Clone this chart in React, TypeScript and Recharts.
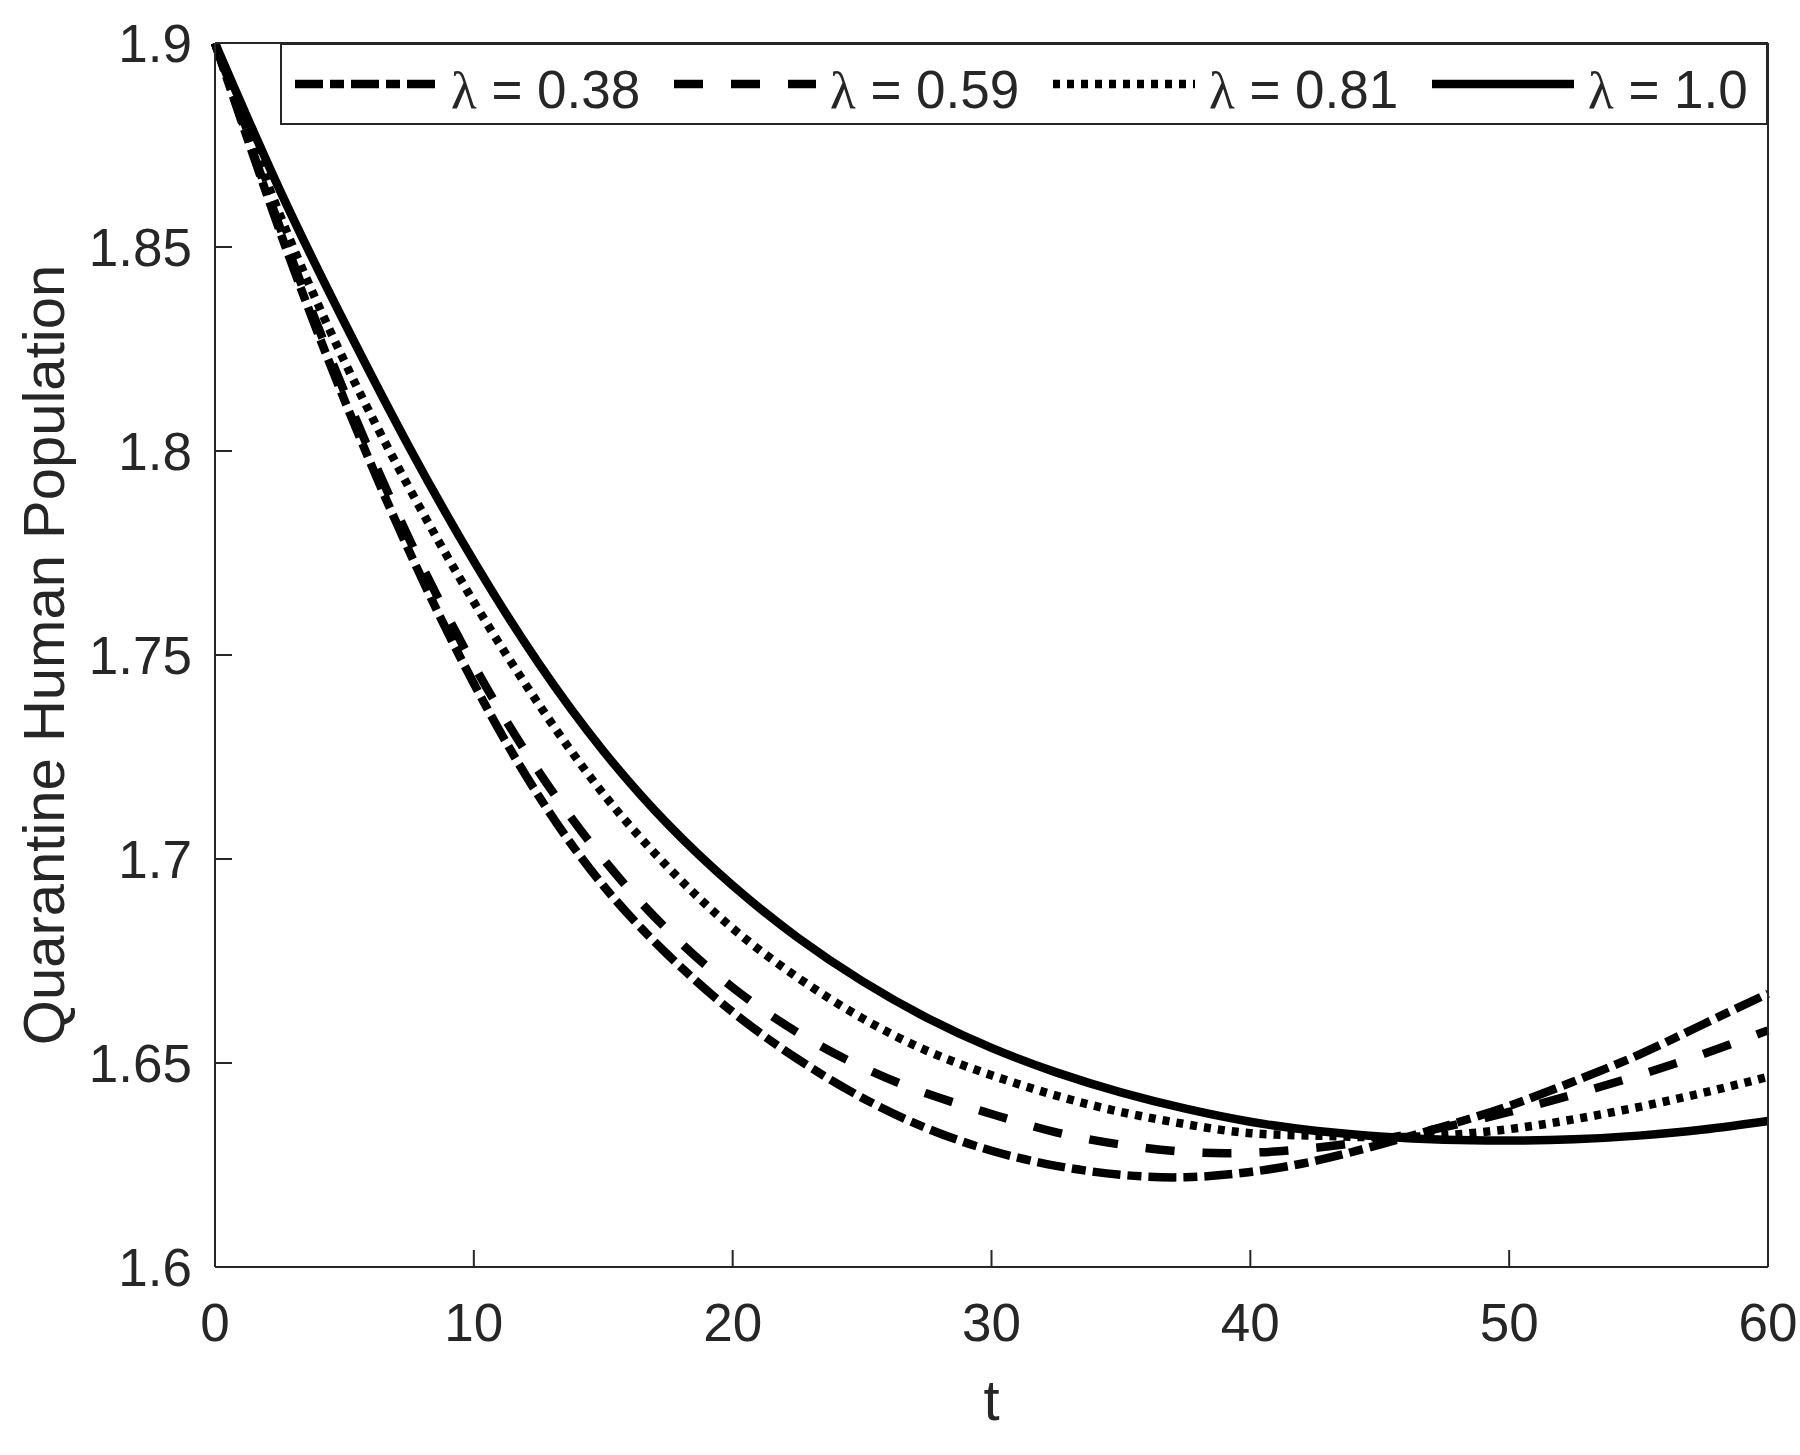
import React from 'react';
import { LineChart, Line, XAxis, YAxis } from 'recharts';

// ---- data ----
const tValues = [0, 2.5, 5, 7.5, 10, 12.5, 15, 17.5, 20, 22.5, 25, 27.5, 30, 32.5, 35, 37.5, 40, 42.5, 45, 47.5, 50, 52.5, 55, 57.5, 60];

const lambda038 = [1.900, 1.854, 1.8125, 1.7755, 1.743, 1.7155, 1.6935, 1.6765, 1.6625, 1.651, 1.6415, 1.634, 1.6285, 1.6248, 1.6226, 1.622, 1.6233, 1.626, 1.630, 1.6345, 1.6395, 1.6455, 1.652, 1.6595, 1.667];
const lambda059 = [1.900, 1.855, 1.8145, 1.7785, 1.7475, 1.7215, 1.700, 1.6825, 1.6685, 1.6575, 1.649, 1.6425, 1.6375, 1.633, 1.630, 1.6282, 1.628, 1.6292, 1.6313, 1.6343, 1.638, 1.6423, 1.647, 1.6522, 1.658];
const lambda081 = [1.900, 1.858, 1.822, 1.791, 1.763, 1.738, 1.716, 1.698, 1.683, 1.671, 1.661, 1.653, 1.647, 1.642, 1.638, 1.635, 1.6328, 1.6322, 1.6318, 1.6323, 1.6338, 1.6362, 1.6392, 1.6427, 1.6466];
const lambda100 = [1.900, 1.864, 1.8315, 1.801, 1.773, 1.748, 1.7265, 1.7085, 1.6935, 1.6808, 1.6701, 1.6611, 1.6537, 1.6477, 1.6428, 1.6388, 1.6356, 1.6334, 1.632, 1.6312, 1.631, 1.6313, 1.6322, 1.6337, 1.6358];

const seriesKeys = ['l038', 'l059', 'l081', 'l100'];
const seriesLabels = ['0.38', '0.59', '0.81', '1.0'];
const seriesDash: (string | undefined)[] = ['28 7 14 7', '29 28', '7 7', undefined];

const xTicks = [0, 10, 20, 30, 40, 50, 60];
const yTicks = [1.6, 1.65, 1.7, 1.75, 1.8, 1.85, 1.9];

const xLabel = 't';
const yLabel = 'Quarantine Human Population';

const data = tValues.map((t, i) => ({
  t,
  l038: lambda038[i],
  l059: lambda059[i],
  l081: lambda081[i],
  l100: lambda100[i],
}));

// ---- styles ----
const FONT = '"Liberation Sans", Arial, Helvetica, sans-serif';
const SERIF = '"Liberation Serif", "Times New Roman", serif';
const AX = '#262626';
const LW = 8.5;

const XLabelContent = (props: any) => {
  const vb = props.viewBox || { x: 0, y: 0, width: 0 };
  return (
    <text x={vb.x + vb.width / 2} y={vb.y + 153} textAnchor="middle" fontSize={58} fontFamily={FONT} fill={AX}>
      {xLabel}
    </text>
  );
};

const YLabelContent = (props: any) => {
  const vb = props.viewBox || { x: 0, y: 0, width: 0, height: 0 };
  const cx = vb.x + vb.width - 151.5;
  const cy = vb.y + vb.height / 2;
  return (
    <text x={cx} y={cy} transform={`rotate(-90 ${cx} ${cy})`} textAnchor="middle" fontSize={58} fontFamily={FONT} fill={AX}>
      {yLabel}
    </text>
  );
};

const tickStyle = { fontSize: 53, fill: AX, fontFamily: FONT };
const lineStyle = { stroke: AX, strokeWidth: 2 };

export default function App() {
  return (
    <div style={{ position: 'absolute', left: 0, top: 0, width: 1800, height: 1455, background: '#fff' }}>
      <LineChart width={1800} height={1455} data={data} margin={{ top: 42, right: 31, bottom: 187, left: 214 }}>
        <XAxis
          dataKey="t"
          type="number"
          domain={[0, 60]}
          ticks={xTicks}
          interval={0}
          height={1}
          tickSize={-17}
          tickMargin={53}
          tick={tickStyle}
          tickLine={lineStyle}
          axisLine={lineStyle}
          label={XLabelContent}
        />
        <XAxis
          xAxisId="top"
          orientation="top"
          dataKey="t"
          type="number"
          domain={[0, 60]}
          ticks={xTicks}
          interval={0}
          height={1}
          tickSize={-17}
          tick={false}
          tickLine={lineStyle}
          axisLine={lineStyle}
        />
        <YAxis
          type="number"
          domain={[1.6, 1.9]}
          ticks={yTicks}
          interval={0}
          width={1}
          tickSize={-17}
          tickMargin={40}
          tick={tickStyle}
          tickLine={lineStyle}
          axisLine={lineStyle}
          allowDataOverflow
          label={YLabelContent}
        />
        <YAxis
          yAxisId="right"
          orientation="right"
          type="number"
          domain={[1.6, 1.9]}
          ticks={yTicks}
          interval={0}
          width={1}
          tickSize={-17}
          tick={false}
          tickLine={lineStyle}
          axisLine={lineStyle}
          allowDataOverflow
        />
        {seriesKeys.map((k, i) => (
          <Line
            key={k}
            dataKey={k}
            type="natural"
            stroke="#000"
            strokeWidth={LW}
            strokeDasharray={seriesDash[i]}
            strokeLinejoin="round"
            dot={false}
            activeDot={false}
            isAnimationActive={false}
          />
        ))}
      </LineChart>
      <svg style={{ position: 'absolute', left: 280, top: 43 }} width={1488} height={82}>
        <rect x={1} y={1} width={1486} height={80} fill="#fff" stroke={AX} strokeWidth={2} />
        {seriesLabels.map((lab, i) => {
          const x0 = 15 + i * 379;
          return (
            <g key={lab}>
              <line x1={x0} x2={x0 + 142} y1={41} y2={41} stroke="#000" strokeWidth={LW} strokeDasharray={seriesDash[i]} />
              <text x={x0 + 156} y={65} fontSize={53} fontFamily={FONT} fill={AX}>
                <tspan fontFamily={SERIF}>λ</tspan>
                {' = ' + lab}
              </text>
            </g>
          );
        })}
      </svg>
    </div>
  );
}
